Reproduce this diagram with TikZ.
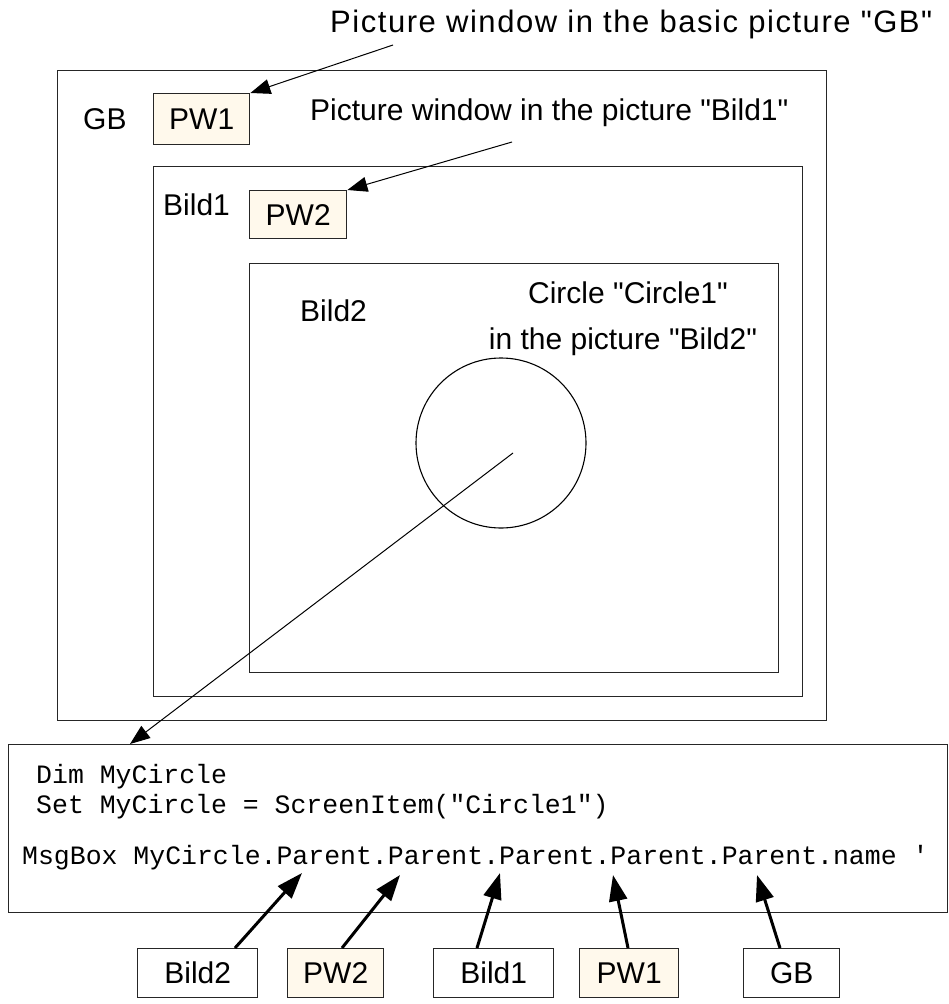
\documentclass[tikz,border=0pt]{standalone}
\usepackage{fontspec}
\setmainfont{Liberation Sans}[Ligatures=TeXOff]
\setmonofont{Liberation Mono}[Ligatures=TeXOff]
\usetikzlibrary{arrows.meta}
\definecolor{pwfill}{RGB}{255,249,236}
\begin{document}
\begin{tikzpicture}[x=1pt,y=-1pt,
  frame/.style={draw=black!85, line width=1.4pt, anchor=north west, inner sep=0pt},
  pwbox/.style={frame, fill=pwfill},
  lbl/.style={font=\fontsize{30}{34}\selectfont, inner sep=0pt, anchor=base west},
  toplbl/.style={font=\fontsize{31}{34}\selectfont\addfontfeatures{LetterSpace=5}, inner sep=0pt, anchor=base west},
  boxtxt/.style={font=\fontsize{30}{34}\selectfont},
  code/.style={font=\ttfamily\fontsize{26.5}{30}\selectfont, inner sep=0pt, anchor=base west},
  thinarrow/.style={draw=black, line width=1pt, -{Triangle[length=20pt,width=15pt]}},
  thickarrow/.style={draw=black, line width=3pt, -{Triangle[length=26pt,width=18pt]}}
]
\useasboundingbox (0,0) rectangle (949,1004);

% nested picture frames
\node[frame, minimum width=769pt, minimum height=650pt] (gb) at (57,70) {};
\node[pwbox, minimum width=96pt, minimum height=51pt] (pw1) at (153,93) {};
\node[boxtxt] (pw1t) at (pw1.center) {PW1};
\node[frame, minimum width=649pt, minimum height=530pt] (bild1) at (153,166) {};
\node[pwbox, minimum width=97pt, minimum height=48pt] (pw2) at (249,190) {};
\node[boxtxt] (pw2t) at (pw2.center) {PW2};
\node[frame, minimum width=529pt, minimum height=409pt] (bild2) at (249,263) {};
\node[draw=black, line width=1.1pt, circle, minimum size=170pt, inner sep=0pt] (circ) at (501,443) {};

% labels
\node[lbl] (gbl) at (83,129) {GB};
\node[lbl] (b1l) at (163,215) {Bild1};
\node[lbl] (b2l) at (300,321) {Bild2};
\node[font=\fontsize{30}{34}\selectfont, inner sep=0pt, anchor=base] (cl1) at (628,303) {Circle "Circle1"};
\node[font=\fontsize{30}{34}\selectfont, inner sep=0pt, anchor=base] (cl2) at (623,349) {in the picture "Bild2"};
\node[toplbl] (toplabel) at (330,32) {Picture window in the basic picture "GB"};
\node[lbl] (midlabel) at (310,120) {Picture window in the picture "Bild1"};

% code box
\node[frame, minimum width=939pt, minimum height=168pt] (codebox) at (8,744) {};
\node[code] (c1) at (36,783) {Dim MyCircle};
\node[code] (c2) at (36,813) {Set MyCircle = ScreenItem("Circle1")};
\node[code] (c3) at (22,864) {MsgBox MyCircle.Parent.Parent.Parent.Parent.Parent.name '};

% bottom boxes
\node[frame, minimum width=120pt, minimum height=49pt] (bb2) at (137,948) {};
\node[boxtxt] (bb2t) at (bb2.center) {Bild2};
\node[pwbox, minimum width=96pt, minimum height=49pt] (bpw2) at (287,948) {};
\node[boxtxt] (bpw2t) at (bpw2.center) {PW2};
\node[frame, minimum width=120pt, minimum height=49pt] (bb1) at (433,948) {};
\node[boxtxt] (bb1t) at (bb1.center) {Bild1};
\node[pwbox, minimum width=99pt, minimum height=49pt] (bpw1) at (579,948) {};
\node[boxtxt] (bpw1t) at (bpw1.center) {PW1};
\node[frame, minimum width=96pt, minimum height=49pt] (bgb) at (743,948) {};
\node[boxtxt] (bgbt) at (bgb.center) {GB};

% connector end points
\coordinate (s1) at (393,45);
\coordinate (s2) at (512,142);
\coordinate (sc) at (513,453);
\coordinate (tc) at (130,744);
\coordinate (tb2) at (302,873);
\coordinate (tpw2) at (400,875);
\coordinate (tb1) at (500,873);
\coordinate (tpw1) at (613,875);
\coordinate (tgb) at (757,875);
\coordinate (fb2) at (235,948);
\coordinate (fpw2) at (342,948);
\coordinate (fb1) at (477,948);
\coordinate (fpw1) at (628,948);
\coordinate (fgb) at (780,948);

% thin arrows
\draw[thinarrow] (s1) -- (pw1.north east);
\draw[thinarrow] (s2) -- (pw2.north east);
\draw[thinarrow] (sc) -- (tc);

% thick arrows
\draw[thickarrow] (fb2) -- (tb2);
\draw[thickarrow] (fpw2) -- (tpw2);
\draw[thickarrow] (fb1) -- (tb1);
\draw[thickarrow] (fpw1) -- (tpw1);
\draw[thickarrow] (fgb) -- (tgb);
\end{tikzpicture}
\end{document}
